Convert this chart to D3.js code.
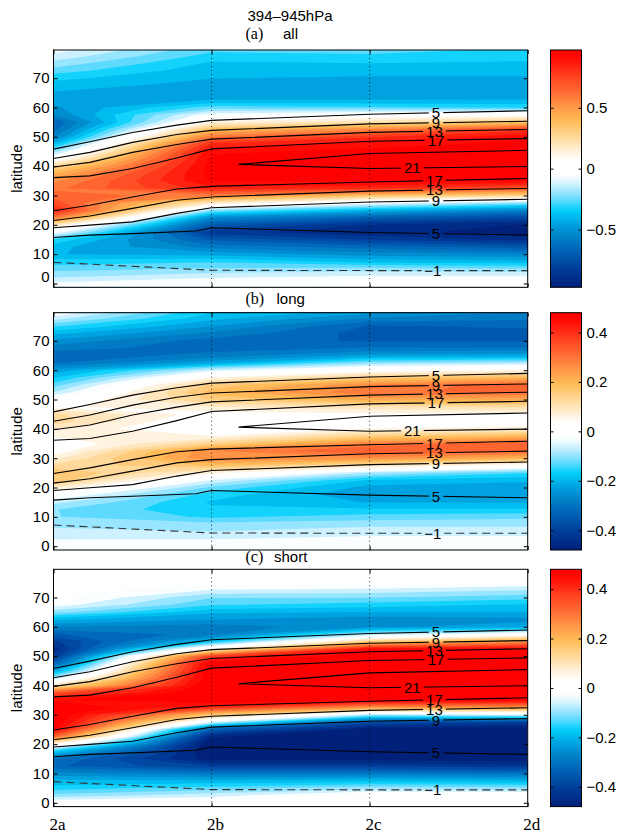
<!DOCTYPE html>
<html>
<head>
<meta charset="utf-8">
<script src="https://cdn.jsdelivr.net/npm/d3@7"></script>
<style>
body { margin: 0; background: #fff; }
text { font-family: "Liberation Sans", Arial, sans-serif; }
</style>
</head>
<body>
<svg id="fig" width="617" height="834"></svg>
<script>
// x categories and the latitude rows of the shaded field (0, 2.5, ... 80)
const runs = ["2a", "2b", "2c", "2d"];
const gridLat = d3.range(0, 81, 2.5);
const latTicks = [0, 10, 20, 30, 40, 50, 60, 70];

// shaded field, one column of 33 values per run
const fieldAll = [
  [-0.08,-0.18,-0.25,-0.33,-0.42,-0.40,-0.30,-0.05,0.20,0.60,0.85,0.72,0.65,0.60,0.53,0.42,0.25,0.02,-0.20,-0.38,-0.56,-0.64,-0.68,-0.55,-0.50,-0.46,-0.43,-0.39,-0.34,-0.26,-0.19,-0.12,-0.06],
  [-0.03,-0.12,-0.22,-0.30,-0.45,-0.58,-0.70,-0.85,-0.70,-0.52,-0.20,0.18,0.58,0.85,0.95,0.97,0.97,0.96,0.93,0.83,0.60,0.38,0.12,-0.05,-0.26,-0.42,-0.47,-0.45,-0.42,-0.40,-0.37,-0.32,-0.27],
  [0.00,-0.09,-0.20,-0.38,-0.52,-0.65,-0.82,-0.93,-0.88,-0.68,-0.40,-0.05,0.35,0.83,0.96,0.97,0.97,0.97,0.96,0.92,0.80,0.55,0.22,0.00,-0.28,-0.42,-0.47,-0.47,-0.43,-0.40,-0.36,-0.31,-0.25],
  [0.00,-0.09,-0.22,-0.40,-0.55,-0.72,-0.90,-0.96,-0.95,-0.78,-0.55,-0.20,0.28,0.70,0.95,0.97,0.97,0.97,0.97,0.96,0.93,0.78,0.35,0.05,-0.30,-0.42,-0.45,-0.45,-0.43,-0.40,-0.37,-0.33,-0.30]
];
const fieldLong = [
  [-0.03,-0.05,-0.07,-0.09,-0.11,-0.11,-0.07,-0.01,0.08,0.17,0.18,0.12,0.07,0.02,0.01,0.05,0.08,0.13,0.12,0.04,0.00,-0.08,-0.13,-0.18,-0.23,-0.31,-0.33,-0.29,-0.25,-0.20,-0.14,-0.07,-0.01],
  [-0.02,-0.05,-0.08,-0.10,-0.15,-0.17,-0.18,-0.16,-0.12,-0.05,0.06,0.18,0.27,0.27,0.14,0.05,0.00,0.00,0.03,0.08,0.15,0.19,0.15,0.05,-0.06,-0.22,-0.29,-0.32,-0.32,-0.28,-0.24,-0.20,-0.17],
  [-0.02,-0.04,-0.06,-0.09,-0.13,-0.17,-0.21,-0.23,-0.22,-0.18,-0.08,0.10,0.26,0.34,0.28,0.15,0.05,0.00,0.04,0.10,0.22,0.30,0.27,0.15,0.02,-0.10,-0.23,-0.30,-0.34,-0.35,-0.34,-0.28,-0.22],
  [-0.02,-0.04,-0.06,-0.09,-0.12,-0.17,-0.21,-0.23,-0.23,-0.20,-0.14,0.02,0.20,0.32,0.33,0.20,0.07,0.00,0.04,0.12,0.22,0.31,0.33,0.20,0.05,-0.08,-0.22,-0.30,-0.34,-0.35,-0.33,-0.30,-0.27]
];
const fieldShort = [
  [-0.01,-0.10,-0.16,-0.20,-0.26,-0.33,-0.30,-0.17,0.05,0.32,0.47,0.50,0.50,0.50,0.46,0.35,0.10,-0.08,-0.22,-0.33,-0.42,-0.45,-0.41,-0.34,-0.27,-0.20,-0.10,-0.03,0.00,0.00,0.00,0.00,0.00],
  [0.00,-0.06,-0.13,-0.20,-0.29,-0.40,-0.48,-0.50,-0.50,-0.46,-0.34,-0.05,0.17,0.40,0.50,0.50,0.50,0.50,0.50,0.49,0.38,0.05,-0.18,-0.29,-0.29,-0.24,-0.20,-0.14,-0.11,-0.05,0.00,0.00,0.00],
  [0.01,0.00,-0.09,-0.19,-0.29,-0.40,-0.48,-0.50,-0.50,-0.50,-0.49,-0.37,-0.08,0.25,0.48,0.50,0.50,0.50,0.50,0.50,0.50,0.45,0.15,-0.08,-0.25,-0.26,-0.21,-0.16,-0.11,-0.06,0.00,0.00,0.00],
  [0.01,0.00,-0.10,-0.20,-0.30,-0.42,-0.49,-0.50,-0.50,-0.50,-0.50,-0.40,-0.05,0.25,0.47,0.50,0.50,0.50,0.50,0.50,0.50,0.46,0.25,0.00,-0.22,-0.25,-0.21,-0.18,-0.13,-0.08,-0.02,0.00,0.00]
];

// black contour lines (same in every panel): [run position, latitude]
const u5n  = [[0,45.8],[0.23,48.3],[0.5,51.5],[0.78,54.0],[1,55.6],[2,57.7],[3,58.9]];
const u9n  = [[0,42.6],[0.23,44.7],[0.5,48.1],[0.78,50.8],[1,52.2],[2,54.4],[3,55.3]];
const u13n = [[0,39.7],[0.23,41.3],[0.5,44.7],[0.78,47.4],[1,49.2],[2,51.5],[3,52.5]];
const u17n = [[0,36.1],[0.23,36.7],[0.5,39.2],[0.78,42.8],[1,45.9],[2,48.5],[3,49.4]];
const u21  = [[3,45.4],[2,44.3],[1.17,40.6],[2,39.2],[3,39.9]];
const u17s = [[0,24.8],[0.23,26.7],[0.5,29.5],[0.78,32.2],[1,33.1],[2,34.6],[3,35.8]];
const u13s = [[0,21.5],[0.23,23.0],[0.5,25.6],[0.78,28.4],[1,29.5],[2,31.5],[3,32.4]];
const u9s  = [[0,19.0],[0.23,19.9],[0.5,21.0],[0.78,23.9],[1,25.8],[2,27.8],[3,28.7]];
const u5s  = [[0,15.7],[0.23,16.5],[0.5,17.0],[0.9,17.9],[1,19.0],[2,17.4],[3,16.5]];
const um1  = [[0,7.2],[1,4.5],[2,4.4],[3,4.4]];

const contourLines = [
  {pts: u5n, text: "5", at: 2.42}, {pts: u9n, text: "9", at: 2.42},
  {pts: u13n, text: "13", at: 2.41}, {pts: u17n, text: "17", at: 2.42},
  {pts: u21, text: "21", at: 2.27, branch: u21.slice(2)},
  {pts: u17s, text: "17", at: 2.41}, {pts: u13s, text: "13", at: 2.41},
  {pts: u9s, text: "9", at: 2.42}, {pts: u5s, text: "5", at: 2.42},
  {pts: um1, text: "\u22121", at: 2.40, dashed: true}
];

// colour map: [fraction of colour limit, colour]
const cmapStops = [
  [-1.0,"#00207a"],[-0.85,"#003c98"],[-0.7,"#0060b4"],[-0.55,"#0088cc"],[-0.45,"#00a8e4"],
  [-0.35,"#00d0fa"],[-0.25,"#70dcff"],[-0.14,"#c8f0ff"],[-0.06,"#ffffff"],[0.07,"#ffffff"],
  [0.15,"#fff0d8"],[0.27,"#ffd898"],[0.4,"#ffbc58"],[0.52,"#ff9848"],[0.65,"#ff6a34"],
  [0.8,"#ff3a1c"],[0.92,"#ff0e06"],[1.0,"#ff0000"]
];
const cmap = d3.scaleLinear().domain(cmapStops.map(d => d[0])).range(cmapStops.map(d => d[1]))
  .interpolate(d3.interpolateRgb).clamp(true);

const panels = [
  {top: 50, field: fieldAll, cmax: 0.975, cbTicks: [-0.5, 0, 0.5], tag: "(a)", word: "all", wordX: 283, titleY: 38.5},
  {top: 312.7, field: fieldLong, cmax: 0.48, cbTicks: [-0.4, -0.2, 0, 0.2, 0.4], tag: "(b)", word: "long", wordX: 276.5, titleY: 303.5},
  {top: 569.3, field: fieldShort, cmax: 0.48, cbTicks: [-0.4, -0.2, 0, 0.2, 0.4], tag: "(c)", word: "short", wordX: 274, titleY: 561.5}
];

const svg = d3.select("#fig");
const H = 237.3;
const left = 53.5, right = 527.7;
const cbLeft = 550.5, cbRight = 581.5;
const xs = d3.scaleLinear().domain([0, 3]).range([left, right]);
const defs = svg.append("defs");

// colour bar gradient
const grad = defs.append("linearGradient").attr("id", "cbgrad")
  .attr("x1", 0).attr("y1", 1).attr("x2", 0).attr("y2", 0);
d3.range(0, 1.0001, 0.02).forEach(f => {
  grad.append("stop").attr("offset", f).attr("stop-color", cmap(f * 2 - 1));
});

function latAt(pts, u) {
  for (let k = 1; k < pts.length; k++) {
    if (u <= pts[k][0]) {
      const a = pts[k - 1], b = pts[k];
      return a[1] + (b[1] - a[1]) * (u - a[0]) / (b[0] - a[0]);
    }
  }
  return pts[pts.length - 1][1];
}

svg.append("text").attr("x", 290).attr("y", 20.5).attr("text-anchor", "middle")
  .style("font-size", "15px").text("394\u2013945hPa");

panels.forEach((p, pi) => {
  const bottom = p.top + H;
  const ys = d3.scaleLinear().domain([-1.3, 79.6]).range([bottom, p.top]);
  const g = svg.append("g");

  // clip to the axes box
  defs.append("clipPath").attr("id", "clip" + pi)
    .append("rect").attr("x", left).attr("y", p.top).attr("width", right - left).attr("height", H);
  const field = g.append("g").attr("clip-path", "url(#clip" + pi + ")");

  // filled contours
  const nx = p.field.length, ny = p.field[0].length;
  const values = [];
  for (let j = 0; j < ny; j++) for (let i = 0; i < nx; i++) values.push(p.field[i][j]);
  const step = 2 * p.cmax / 30;
  const thr = d3.range(-15, 15).map(k => (k + 0.5) * step);
  const proj = d3.geoTransform({
    point: function(px, py) { this.stream.point(xs(px - 0.5), ys((py - 0.5) * 2.5)); }
  });
  const path = d3.geoPath(proj);
  field.append("rect").attr("x", left).attr("y", p.top).attr("width", right - left).attr("height", H)
    .attr("fill", cmap(-1));
  const bands = d3.contours().size([nx, ny]).thresholds(thr)(values);
  field.selectAll("path.band").data(bands).join("path")
    .attr("class", "band")
    .attr("d", path)
    .attr("fill", d => cmap((d.value + step / 2) / p.cmax));

  // dotted grid at 2b and 2c
  g.selectAll("line.grid").data([1, 2]).join("line")
    .attr("x1", d => xs(d)).attr("x2", d => xs(d))
    .attr("y1", p.top).attr("y2", bottom)
    .attr("stroke", "#000").attr("stroke-width", 0.8).attr("stroke-dasharray", "1,3");

  // label gaps in the contour lines
  const mask = defs.append("mask").attr("id", "mask" + pi)
    .attr("maskUnits", "userSpaceOnUse").attr("x", 0).attr("y", 0).attr("width", 617).attr("height", 834);
  mask.append("rect").attr("x", 0).attr("y", 0).attr("width", 617).attr("height", 834).attr("fill", "#fff");
  const labels = contourLines.map(c => {
    const lat = latAt(c.branch || c.pts, c.at);
    return {x: xs(c.at), y: ys(lat), text: c.text};
  });
  labels.forEach(l => {
    const w = l.text.length * 8.4 + 6;
    mask.append("rect").attr("x", l.x - w / 2).attr("y", l.y - 7).attr("width", w).attr("height", 14)
      .attr("fill", "#000");
  });

  const line = d3.line().x(d => xs(d[0])).y(d => ys(d[1]));
  const lines = field.append("g").attr("mask", "url(#mask" + pi + ")");
  lines.selectAll("path").data(contourLines).join("path")
    .attr("d", d => line(d.pts))
    .attr("fill", "none")
    .attr("stroke", d => d.dashed ? "#333" : "#000")
    .attr("stroke-width", 1.1)
    .attr("stroke-dasharray", d => d.dashed ? "8,5" : null);

  g.selectAll("text.clab").data(labels).join("text")
    .attr("class", "clab")
    .attr("x", d => d.x).attr("y", d => d.y).attr("dy", "0.36em")
    .attr("text-anchor", "middle").style("font-size", "15px").text(d => d.text);

  // axes
  const yl = g.append("g").attr("transform", `translate(${left},0)`)
    .call(d3.axisLeft(ys).tickValues(latTicks).tickSize(-4).tickPadding(4));
  const yr = g.append("g").attr("transform", `translate(${right},0)`)
    .call(d3.axisRight(ys).tickValues(latTicks).tickSize(-4).tickFormat(""));
  const xb = g.append("g").attr("transform", `translate(0,${bottom})`)
    .call(d3.axisBottom(xs).tickValues([0, 1, 2, 3]).tickSize(-4).tickFormat(""));
  const xt = g.append("g").attr("transform", `translate(0,${p.top})`)
    .call(d3.axisTop(xs).tickValues([0, 1, 2, 3]).tickSize(-4).tickFormat(""));
  [yl, yr, xb, xt].forEach(a => {
    a.select(".domain").remove();
    a.selectAll("text").style("font-size", "15px").attr("fill", "#000")
      .style("font-family", "'Liberation Sans', Arial, sans-serif");
    a.selectAll("line").attr("stroke", "#000");
  });
  if (pi === 0) yl.selectAll(".tick").filter(d => d === 0).select("text").attr("y", -6.5);

  g.append("rect").attr("x", left).attr("y", p.top).attr("width", right - left).attr("height", H)
    .attr("fill", "none").attr("stroke", "#000").attr("stroke-width", 1);

  g.append("text")
    .attr("transform", `translate(22,${p.top + H / 2}) rotate(-90)`)
    .attr("text-anchor", "middle").style("font-size", "15px").text("latitude");

  // panel title
  g.append("text").attr("x", 245.5).attr("y", p.titleY)
    .style("font-family", "'Liberation Serif', 'Times New Roman', serif").style("font-size", "16px").text(p.tag);
  g.append("text").attr("x", p.wordX).attr("y", p.titleY).style("font-size", "15px").text(p.word);

  // colour bar
  const cs = d3.scaleLinear().domain([-p.cmax, p.cmax]).range([bottom, p.top]);
  g.append("rect").attr("x", cbLeft).attr("y", p.top).attr("width", cbRight - cbLeft).attr("height", H)
    .attr("fill", "url(#cbgrad)");
  const cr = g.append("g").attr("transform", `translate(${cbRight},0)`)
    .call(d3.axisRight(cs).tickValues(p.cbTicks).tickSize(-3).tickPadding(5)
      .tickFormat(d => d === 0 ? "0" : d3.format(".1f")(d)));
  const cl = g.append("g").attr("transform", `translate(${cbLeft},0)`)
    .call(d3.axisLeft(cs).tickValues(p.cbTicks).tickSize(-3).tickFormat(""));
  [cr, cl].forEach(a => {
    a.select(".domain").remove();
    a.selectAll("text").style("font-size", "15px").attr("fill", "#000")
      .style("font-family", "'Liberation Sans', Arial, sans-serif");
    a.selectAll("line").attr("stroke", "#000");
  });
  g.append("rect").attr("x", cbLeft).attr("y", p.top).attr("width", cbRight - cbLeft).attr("height", H)
    .attr("fill", "none").attr("stroke", "#000").attr("stroke-width", 1);

  // run names under the last panel
  if (pi === panels.length - 1) {
    g.selectAll("text.run").data(runs).join("text")
      .attr("class", "run")
      .attr("x", (d, i) => xs(i) + 4).attr("y", 829.5)
      .attr("text-anchor", "middle")
      .style("font-family", "'Liberation Serif', 'Times New Roman', serif").style("font-size", "17px")
      .text(d => d);
  }
});
</script>
</body>
</html>
